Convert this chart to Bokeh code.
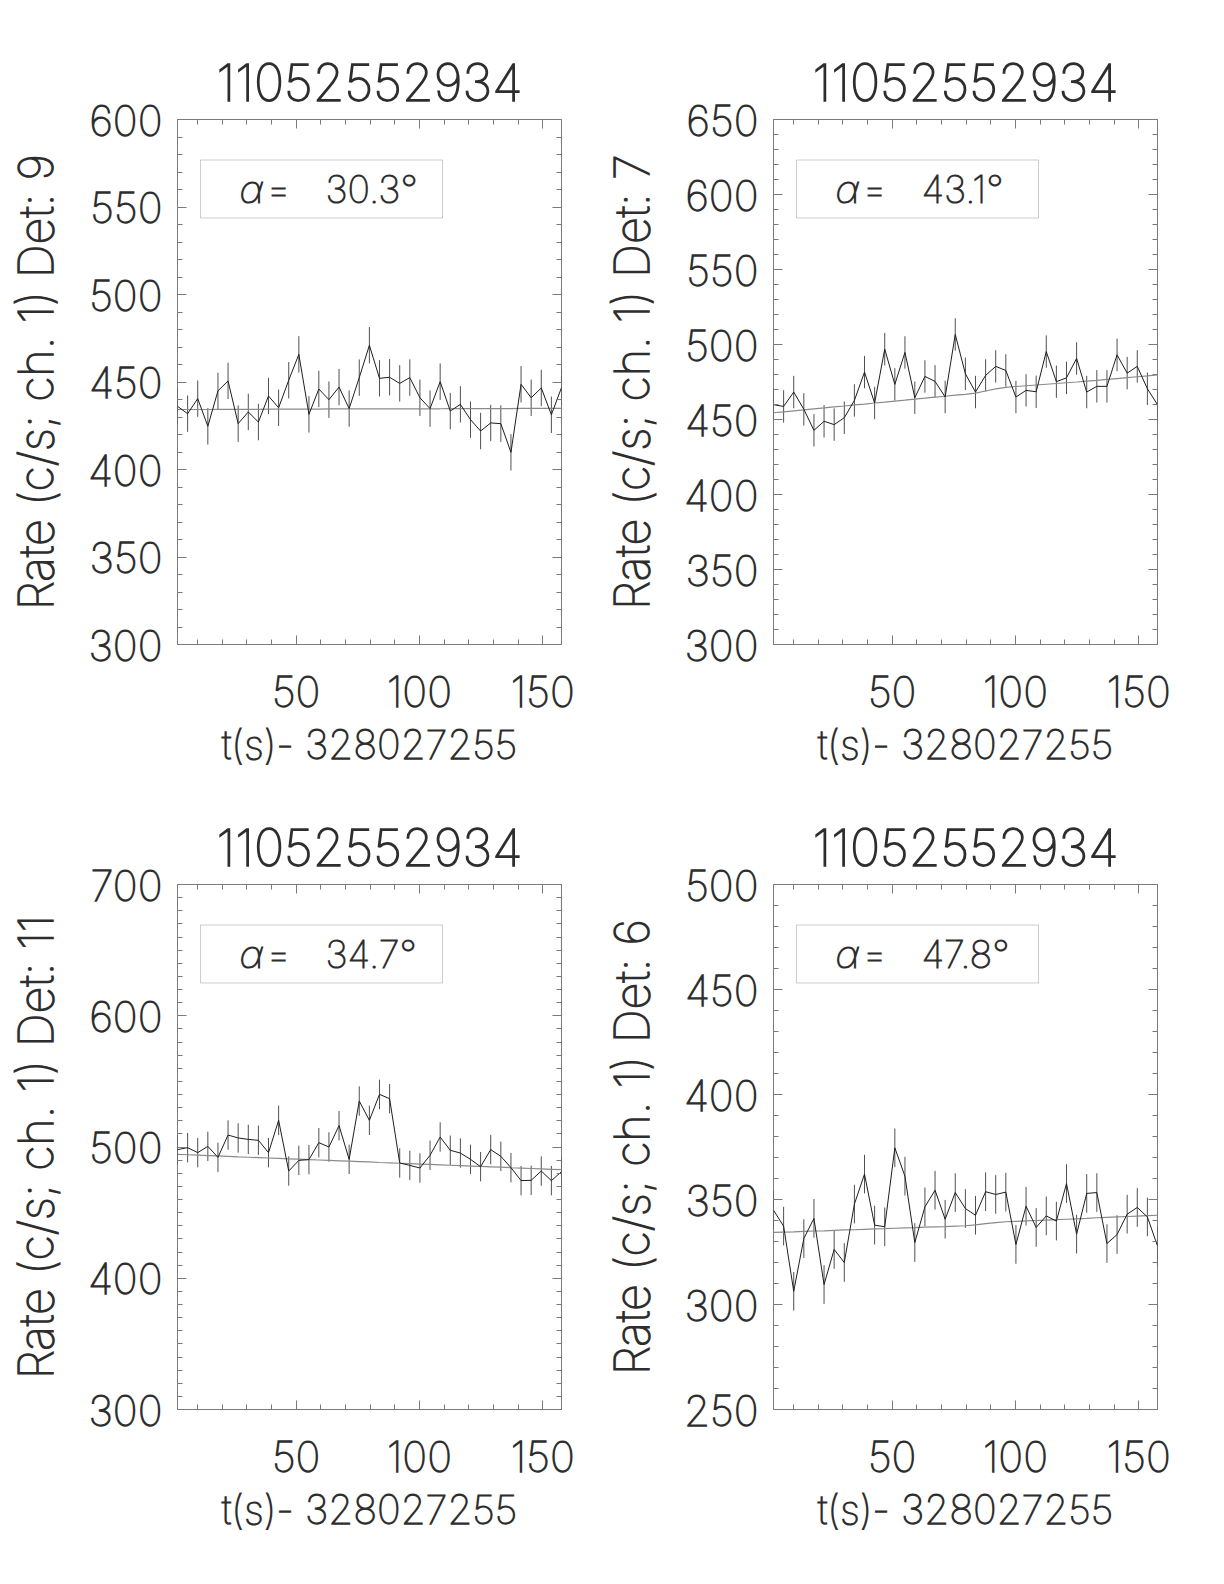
from bokeh.plotting import figure
from bokeh.layouts import gridplot
from bokeh.models import Range1d, SingleIntervalTicker, LinearAxis, BoxAnnotation, Label
from bokeh.embed import file_html
from bokeh.resources import INLINE

# ---------------- data ----------------
t_offset_label = "t(s)- 328027255"
burst_id = "11052552934"

t = [1.9, 6.0, 10.1, 14.2, 18.3, 22.4, 26.5, 30.6, 34.7, 38.8,
     42.9, 47.0, 51.1, 55.2, 59.2, 63.3, 67.4, 71.5, 75.6, 79.7,
     83.8, 87.9, 92.0, 96.1, 100.2, 104.3, 108.4, 112.5, 116.6, 120.7,
     124.8, 128.9, 133.0, 137.1, 141.2, 145.3, 149.4, 153.5, 157.6]

rate_det9 = [436.1, 431.9, 440.5, 424.7, 444.9, 450.6, 426.2, 432.9, 427.1, 442.0,
             435.3, 451.0, 465.8, 431.5, 446.0, 439.9, 447.1, 434.8, 452.5, 471.0,
             452.1, 452.7, 449.2, 452.5, 441.0, 434.8, 450.2, 433.4, 437.2, 428.5,
             422.0, 426.6, 426.2, 409.8, 448.7, 441.0, 446.6, 431.3, 446.8]
model_det9 = [434.3, 434.3, 434.3, 434.3, 434.4, 434.4, 434.4, 434.4, 434.4, 434.5,
              434.5, 434.5, 434.5, 434.5, 434.5, 434.6, 434.6, 434.6, 434.6, 434.6,
              434.6, 434.7, 434.7, 434.7, 434.7, 434.7, 434.7, 434.8, 434.8, 434.8,
              434.8, 434.8, 434.8, 434.8, 434.9, 434.9, 434.9, 434.9, 434.9]

rate_det7 = [459.9, 458.7, 468.3, 456.8, 442.8, 448.8, 446.6, 451.2, 462.7, 481.6,
             461.0, 496.9, 473.4, 494.7, 464.5, 478.7, 475.4, 465.0, 506.7, 480.5,
             468.3, 479.4, 485.4, 482.7, 465.0, 469.4, 468.5, 495.3, 475.2, 477.8,
             490.7, 468.3, 472.1, 472.1, 493.1, 480.9, 485.4, 470.5, 459.9]
model_det7 = [454.5, 455.1, 455.8, 456.4, 457.1, 457.7, 458.4, 459.0, 459.7, 460.3,
              461.0, 461.6, 462.3, 462.9, 463.6, 464.2, 464.9, 465.5, 466.2, 466.8,
              467.6, 469.0, 470.4, 471.4, 472.0, 472.5, 473.0, 473.5, 474.0, 474.5,
              475.0, 475.6, 476.1, 476.7, 477.3, 477.9, 478.5, 479.1, 479.8]

rate_det11 = [498.0, 499.5, 495.7, 500.5, 492.1, 509.1, 506.9, 505.8, 505.1, 495.7,
              520.3, 481.7, 489.8, 490.4, 503.3, 500.0, 516.3, 490.6, 535.0, 520.3,
              540.1, 536.8, 487.8, 486.0, 484.0, 493.7, 507.6, 497.5, 495.4, 490.6,
              485.0, 498.0, 492.9, 484.3, 474.4, 474.6, 481.7, 474.4, 481.2]
model_det11 = [494.4, 494.1, 493.8, 493.5, 493.2, 492.9, 492.5, 492.2, 491.9, 491.6,
               491.3, 491.0, 490.7, 490.4, 490.1, 489.8, 489.5, 489.2, 488.9, 488.6,
               488.2, 487.9, 487.6, 487.3, 487.0, 486.7, 486.4, 486.1, 485.8, 485.5,
               485.2, 484.9, 484.6, 484.2, 483.9, 483.6, 483.3, 483.0, 482.7]

rate_det6 = [344.9, 337.3, 306.3, 331.4, 341.0, 309.5, 326.2, 320.0, 347.8, 362.1,
             337.8, 337.0, 374.6, 361.1, 329.5, 346.5, 354.4, 340.6, 353.3, 345.7,
             342.5, 353.7, 352.4, 353.5, 328.6, 346.8, 336.7, 342.2, 339.7, 357.6,
             333.5, 352.9, 353.3, 329.0, 333.3, 343.0, 346.2, 341.7, 327.9]
model_det6 = [334.3, 334.5, 334.6, 334.8, 335.0, 335.1, 335.3, 335.5, 335.6, 335.8,
              336.0, 336.1, 336.3, 336.5, 336.6, 336.8, 337.0, 337.1, 337.3, 337.5,
              337.9, 338.5, 339.0, 339.4, 339.6, 339.8, 340.0, 340.2, 340.4, 340.6,
              340.8, 341.0, 341.3, 341.5, 341.7, 341.9, 342.1, 342.3, 342.5]

err_det9, err_det7, err_det11, err_det6 = 10.4, 10.8, 11.2, 9.2

dets = [9, 7, 11, 6]
alphas = ["30.3", "43.1", "34.7", "47.8"]
y_limits = [(300, 600), (300, 650), (300, 700), (250, 500)]
y_major = [50, 50, 100, 50]

# ---------------- style ----------------
FONT = "Inter Thin"
TXT = "#2e2e2e"
FRAME = "#7a7a7a"
W = 596
BL, BR = 177, 35
FW, FH = W - BL - BR, 525
BB = 140
ROW_TOP = [119, 100]   # space above the frame in each row


def style_axis(ax, show_labels):
    ax.axis_line_color = None
    ax.major_tick_line_color = FRAME
    ax.minor_tick_line_color = FRAME
    ax.major_tick_in = 9
    ax.major_tick_out = 0
    ax.minor_tick_in = 5
    ax.minor_tick_out = 0
    ax.major_label_text_font = FONT
    ax.major_label_text_color = TXT
    ax.axis_label_text_font = FONT
    ax.axis_label_text_color = TXT
    ax.axis_label_text_font_style = "normal"
    if not show_labels:
        ax.major_label_text_color = None
        ax.major_label_text_font_size = "1px"
        ax.major_label_standoff = 0


def make_panel(det, alpha, rate, model, err, ylim, ystep, bt):
    ymin, ymax = ylim
    x0, x1 = t[0], t[-1]
    p = figure(width=W, height=bt + FH + BB, x_range=Range1d(x0, x1),
               y_range=Range1d(ymin, ymax),
               output_backend="svg", toolbar_location=None,
               min_border_left=BL, min_border_right=BR, min_border_top=bt, min_border_bottom=BB)
    p.xgrid.visible = False
    p.ygrid.visible = False
    p.outline_line_color = FRAME
    p.outline_line_width = 1
    p.background_fill_color = "white"
    p.border_fill_color = "white"

    xt = SingleIntervalTicker(interval=50, num_minor_ticks=5)
    yt = SingleIntervalTicker(interval=ystep, num_minor_ticks=ystep // 10)

    xa = p.xaxis[0]
    xa.ticker = xt
    style_axis(xa, True)
    xa.major_label_text_font_size = "42px"
    xa.major_label_standoff = 30
    xa.axis_label = t_offset_label
    xa.axis_label_text_font_size = "40px"
    xa.axis_label_standoff = 10

    ya = p.yaxis[0]
    ya.ticker = yt
    style_axis(ya, True)
    ya.major_label_text_font_size = "42px"
    ya.major_label_standoff = 15
    ya.axis_label = f"Rate (c/s; ch. 1) Det: {det}"
    ya.axis_label_text_font_size = "47px"
    ya.axis_label_standoff = 21

    top = LinearAxis(ticker=xt)
    style_axis(top, False)
    p.add_layout(top, "above")
    right = LinearAxis(ticker=yt)
    style_axis(right, False)
    p.add_layout(right, "right")

    p.title.text = burst_id
    p.title.align = "center"
    p.title.text_font = FONT
    p.title.text_font_size = "51px"
    p.title.text_font_style = "normal"
    p.title.text_color = TXT
    p.title.standoff = 38

    lo = [r - err for r in rate]
    hi = [r + err for r in rate]
    p.segment(x0=t, y0=lo, x1=t, y1=hi, line_color="#505050", line_width=1)
    p.line(t, model, line_color="#8a8a8a", line_width=1.2)
    p.line(t, rate, line_color="#1e1e1e", line_width=1)

    xpx = (x1 - x0) / FW
    ypx = (ymax - ymin) / FH
    box = BoxAnnotation(left=x0 + 23 * xpx, right=x0 + 265 * xpx,
                        top=ymax - 40.5 * ypx, bottom=ymax - 98.5 * ypx,
                        fill_color=None, line_color="#5a5a5a", line_width=1)
    p.add_layout(box)
    ymid = ymax - 69.5 * ypx
    common = dict(y=ymid, text_font=FONT, text_font_size="38px", text_color=TXT,
                  text_baseline="middle", text_align="left")
    p.add_layout(Label(x=x0 + 62 * xpx, text="α", text_font_style="italic", **common))
    p.add_layout(Label(x=x0 + 89 * xpx, text="=", **common))
    p.add_layout(Label(x=x0 + 148 * xpx, text=f"{alpha}°", **common))
    return p


p1 = make_panel(dets[0], alphas[0], rate_det9, model_det9, err_det9, y_limits[0], y_major[0], ROW_TOP[0])
p2 = make_panel(dets[1], alphas[1], rate_det7, model_det7, err_det7, y_limits[1], y_major[1], ROW_TOP[0])
p3 = make_panel(dets[2], alphas[2], rate_det11, model_det11, err_det11, y_limits[2], y_major[2], ROW_TOP[1])
p4 = make_panel(dets[3], alphas[3], rate_det6, model_det6, err_det6, y_limits[3], y_major[3], ROW_TOP[1])

grid = gridplot([[p1, p2], [p3, p4]], toolbar_location=None)
open("out.html", "w").write(file_html(grid, INLINE))
